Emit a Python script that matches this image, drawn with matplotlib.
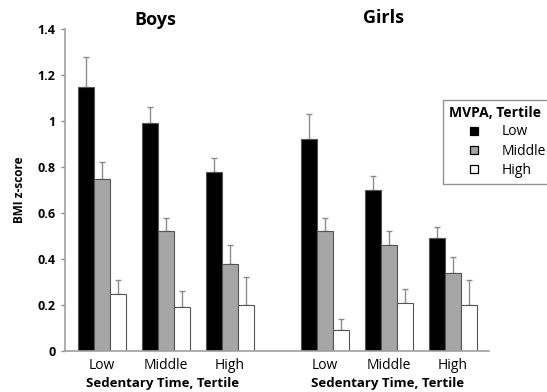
import matplotlib.pyplot as plt
import numpy as np
from matplotlib.lines import Line2D

plt.rcParams['font.family'] = ['Open Sans', 'DejaVu Sans']

# Data
sedentary = ['Low', 'Middle', 'High']
mvpa = ['Low', 'Middle', 'High']
boys_means = [[1.15, 0.99, 0.78],   # MVPA low
              [0.75, 0.52, 0.38],   # MVPA middle
              [0.25, 0.19, 0.20]]   # MVPA high
boys_err = [[0.13, 0.07, 0.06],
            [0.07, 0.06, 0.08],
            [0.06, 0.07, 0.12]]
girls_means = [[0.92, 0.70, 0.49],
               [0.52, 0.46, 0.34],
               [0.09, 0.21, 0.20]]
girls_err = [[0.11, 0.06, 0.05],
             [0.06, 0.06, 0.07],
             [0.05, 0.06, 0.11]]

colors = ['black', '#a6a6a6', 'white']
width = 0.25
grey = '#8c8c8c'

fig = plt.figure(figsize=(5.47, 3.92), dpi=100)
ax = fig.add_axes([65 / 547, 1 - 351 / 392, (489 - 65) / 547, (351 - 29) / 392])

boys_x = np.arange(3)
girls_x = np.arange(3) + 3.48
for i in range(3):
    for xs, means, errs in ((boys_x, boys_means, boys_err), (girls_x, girls_means, girls_err)):
        pos = xs + (i - 1) * width
        ax.bar(pos, means[i], width, color=colors[i], edgecolor='#555555', linewidth=0.8, zorder=2)
        ax.errorbar(pos, means[i], yerr=[np.zeros(3), errs[i]], fmt='none',
                    ecolor=grey, elinewidth=1.0, capsize=2.5, capthick=1.0, zorder=1)

ax.set_xlim(-0.575, girls_x[-1] + 0.56)
ax.set_ylim(0, 1.4)
ax.set_yticks(np.arange(0, 1.41, 0.2))
ax.set_yticklabels(['0', '0.2', '0.4', '0.6', '0.8', '1', '1.2', '1.4'], fontweight='bold', fontsize=9)
ax.set_xticks(np.concatenate([boys_x, girls_x]))
ax.set_xticklabels(sedentary * 2, fontsize=10)
ax.tick_params(axis='x', length=0, pad=5)
ax.tick_params(axis='y', length=3, color=grey, width=1, pad=4)
for s in ('top', 'right'):
    ax.spines[s].set_visible(False)
for s in ('left', 'bottom'):
    ax.spines[s].set_color('#a0a0a0')
    ax.spines[s].set_linewidth(1.2)

ax.set_ylabel('BMI z-score', fontweight='bold', fontsize=8.5, labelpad=8)

fig.text(155 / 547, 1 - 20 / 392, 'Boys', ha='center', va='center', fontweight='bold', fontsize=13)
fig.text(383 / 547, 1 - 18 / 392, 'Girls', ha='center', va='center', fontweight='bold', fontsize=13)
fig.text(163 / 547, 1 - 384 / 392, 'Sedentary Time, Tertile', ha='center', va='center', fontweight='bold', fontsize=9.5)
fig.text(388 / 547, 1 - 384 / 392, 'Sedentary Time, Tertile', ha='center', va='center', fontweight='bold', fontsize=9.5)

handles = [Line2D([], [], marker='s', linestyle='none', markersize=5.5,
                  markerfacecolor=c, markeredgecolor='black', markeredgewidth=0.9) for c in colors]
leg = fig.legend(handles, mvpa, title='MVPA, Tertile', loc='upper left',
                 bbox_to_anchor=(443 / 547, 1 - 100 / 392), frameon=True, fontsize=10,
                 title_fontproperties={'weight': 'bold', 'size': 10},
                 handlelength=3.6, handletextpad=0.2, labelspacing=0.3,
                 borderpad=0.45, borderaxespad=0, fancybox=False, edgecolor='#777777')
leg._legend_box.align = 'left'
leg.get_frame().set_linewidth(1.0)

fig.savefig('out.png', dpi=100)
